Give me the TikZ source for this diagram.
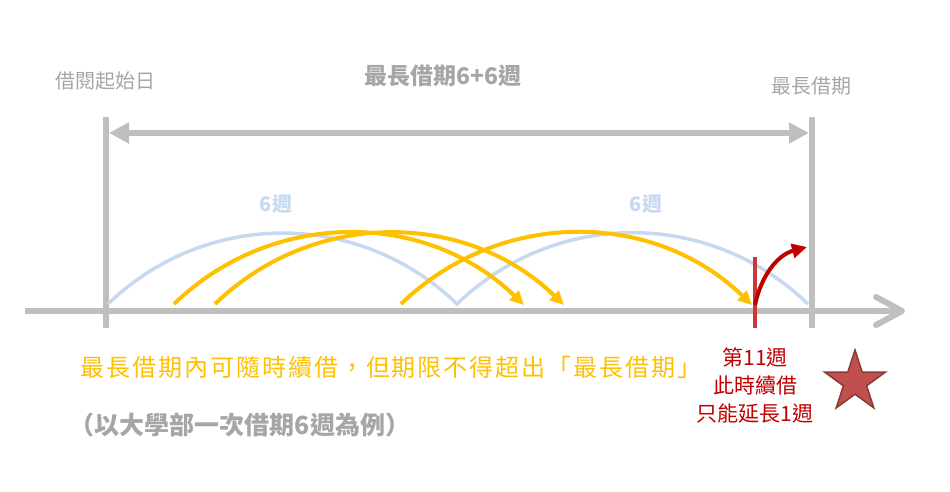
\documentclass[tikz,border=0pt]{standalone}
\usepackage{fontspec}
\setmainfont{Noto Sans CJK TC}
\newfontfamily\widecjk[LetterSpace=8]{Noto Sans CJK TC}
\usetikzlibrary{arrows.meta}
\usetikzlibrary{shapes.geometric}
\definecolor{linegray}{RGB}{191,191,191}
\definecolor{textgray}{RGB}{166,166,166}
\definecolor{weekblue}{RGB}{198,217,241}
\definecolor{renewyellow}{RGB}{255,192,0}
\definecolor{limitred}{RGB}{192,0,0}
\definecolor{markred}{RGB}{204,56,56}
\definecolor{starfill}{RGB}{192,80,77}
\definecolor{stardraw}{RGB}{140,56,54}

\begin{document}
\begin{tikzpicture}[x=1pt,y=1pt,
        bar/.style={linegray,line width=6pt},
        weekarc/.style={weekblue,line width=3.5pt},
        renew/.style={renewyellow,line width=4pt,-{Triangle[length=14pt,width=13pt]}},
        graytext/.style={textgray,inner sep=1pt,font=\fontsize{20}{24}\selectfont},
        weektext/.style={weekblue,inner sep=1pt,font=\fontsize{20}{24}\selectfont\bfseries}]
        \useasboundingbox (0,0) rectangle (950,492);
        \coordinate (axisL) at (25,181);
        \coordinate (axisR) at (905,181);
        \coordinate (startT) at (106,375);
        \coordinate (startB) at (106,164);
        \coordinate (limitT) at (812,375);
        \coordinate (limitB) at (812,164);
        \coordinate (spanL) at (109,359);
        \coordinate (spanR) at (809,359);
        \coordinate (week0) at (108,188);
        \coordinate (week1) at (457,188);
        \coordinate (week2) at (808,188);
        \coordinate (renewAs) at (174,188);
        \coordinate (renewAe) at (524,187);
        \coordinate (renewBs) at (215,188);
        \coordinate (renewBe) at (564,187);
        \coordinate (renewCs) at (401,188);
        \coordinate (renewCe) at (752,187);
        \coordinate (markT) at (755,235);
        \coordinate (markB) at (755,164);
        \coordinate (lastS) at (755,187);
        \coordinate (lastE) at (807,245);
        \draw[bar] (startT) -- (startB);
        \draw[bar] (limitT) -- (limitB);
        \draw[bar,{Triangle[length=20pt,width=20pt]}-{Triangle[length=20pt,width=20pt]}] (spanL) -- (spanR);
        \draw[bar,-{Straight Barb[length=26pt,width=28pt,round]}] (axisL) -- (axisR);
        \draw[weekarc] (week0) to[out=44,in=136] (week1) to[out=44,in=136] (week2);
        \draw[renew] (renewAs) to[out=44,in=136] (renewAe);
        \draw[renew] (renewBs) to[out=44,in=136] (renewBe);
        \draw[renew] (renewCs) to[out=44,in=136] (renewCe);
        \draw[markred,line width=3.5pt] (markT) -- (markB);
        \draw[limitred,line width=4pt,-{Triangle[length=15pt,width=14pt]}] (lastS) to[out=78,in=195] (lastE);
        \node[graytext] (start) at (105,411) {借閱起始日};
        \node[graytext] (limit) at (811,406) {最長借期};
        \node[graytext,font=\fontsize{23}{27}\selectfont\bfseries] (title) at (443,416) {最長借期6+6週};
        \node[weektext] (weekA) at (276,288) {6週};
        \node[weektext] (weekB) at (646,288) {6週};
        \node[renewyellow,inner sep=1pt,font=\fontsize{24}{28}\widecjk] (note) at (391,125) {最長借期內可隨時續借，但期限不得超出「最長借期」};
        \node[textgray,inner sep=1pt,font=\fontsize{25}{29}\selectfont\bfseries] (example) at (240,67) {（以大學部一次借期6週為例）};
        \node[limitred,inner sep=1pt,align=center,font=\fontsize{21}{28}\selectfont] (week11) at (755,106) {第11週\\此時續借\\只能延長1週};
        \node[star,star points=5,star point ratio=2.618,minimum size=64pt,inner sep=0pt,fill=starfill,draw=stardraw,line width=1.5pt] (goal) at (855,110) {};
\end{tikzpicture}
\end{document}
